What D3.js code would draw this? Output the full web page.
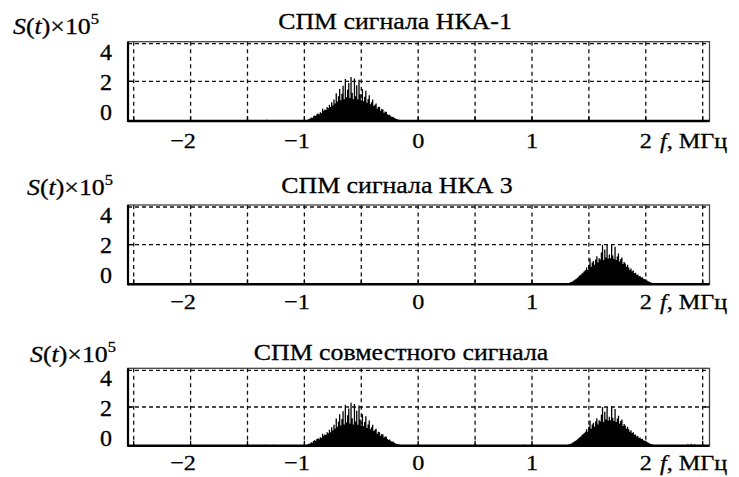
<!DOCTYPE html>
<html><head><meta charset="utf-8">
<script src="https://cdn.jsdelivr.net/npm/d3@7"></script>
<style>
body{margin:0;background:#fff}
text{font-family:"Liberation Serif","Times New Roman",serif;fill:#000;stroke:#000;stroke-width:0.3px}
</style>
</head><body><svg id="c" width="739" height="477"></svg>
<script>
// ---------------- data ----------------
const panelTitles = ["СПМ сигнала НКА-1", "СПМ сигнала НКА 3", "СПМ совместного сигнала"];
const xTickValues = [-2, -1, 0, 1, 2];
const xGridValues = [-2.5, -2, -1.5, -1, -0.5, 0, 0.5, 1, 1.5, 2, 2.5];
const yTickValues = [0, 2, 4];
const yGridValues = [2, 4];
const xUnitLabel = "МГц";
const freqStep = 0.01;

const hka1Start = -0.98;
const hka1Values = [
  0.03,0.06,0.10,0.12,0.18,0.15,0.24,0.28,0.25,0.34,
  0.38,0.33,0.44,0.40,0.62,0.52,0.58,0.55,0.70,0.64,
  0.82,0.70,0.95,0.78,1.08,0.88,1.40,0.98,1.25,1.62,
  1.05,1.38,1.78,1.10,2.12,1.20,1.58,1.92,1.15,2.22,
  1.42,1.10,2.15,1.25,1.80,1.08,2.08,1.35,1.05,1.62,
  1.00,1.22,1.52,0.92,1.10,1.30,0.85,0.95,1.08,0.76,
  0.82,0.88,0.62,0.72,0.70,0.52,0.60,0.58,0.42,0.48,
  0.46,0.34,0.30,0.32,0.24,0.20,0.22,0.15,0.12,0.10,
  0.08,0.06,0.05,0.03,0.02
];
const hka3Start = 1.30;
const hka3Values = [
  0.02,0.04,0.06,0.08,0.10,0.13,0.16,0.20,0.24,0.28,
  0.33,0.38,0.44,0.48,0.55,0.60,0.66,0.72,
  0.85,0.72,0.98,1.30,0.88,1.10,1.18,0.98,1.25,1.42,
  1.10,1.32,1.25,1.60,2.00,1.22,1.75,1.35,2.00,1.30,
  1.50,1.32,2.02,1.45,1.28,1.90,1.22,1.40,1.55,1.15,
  1.28,1.35,1.02,1.12,1.05,0.88,0.98,0.85,0.72,0.80,
  0.66,0.70,0.56,0.58,0.48,0.50,0.40,0.42,0.34,0.36,
  0.28,0.26,0.22,0.19,0.16,0.13,0.10,0.08,0.06,0.04,0.02
];
const hka1Blips = [[-1.33, 0.06], [-1.32, 0.04], [0.18, 0.05]];
const hka3Blips = [];
const jointBlips = [[-1.35, 0.05], [-1.31, 0.04], [-1.27, 0.05], [0.17, 0.04],
  [0.90, 0.04], [0.93, 0.06], [0.96, 0.04], [2.37, 0.07], [2.40, 0.10], [2.43, 0.08]];

// ---------------- helpers ----------------
function seriesPoints(start, values) {
  return values.map((v, i) => [Math.round((start + i * freqStep) * 100) / 100, v]);
}
function combine(...lists) {
  const m = new Map();
  lists.flat().forEach(([f, v]) => m.set(f, (m.get(f) || 0) + v));
  return Array.from(m.entries()).sort((a, b) => a[0] - b[0]);
}
const s1 = seriesPoints(hka1Start, hka1Values);
const s3 = seriesPoints(hka3Start, hka3Values);
const panelData = [
  combine(s1, hka1Blips),
  combine(s3, hka3Blips),
  combine(s1, s3, jointBlips)
];

// ---------------- layout ----------------
const layout = [
  {top: 41.7, bottom: 121, titleX: 395, titleY: 29, labX: 13, labY: 34, tickY: 148},
  {top: 205, bottom: 284.3, titleX: 397, titleY: 193, labX: 27, labY: 195, tickY: 309},
  {top: 368.3, bottom: 445.7, titleX: 401, titleY: 360, labX: 30, labY: 362, tickY: 470}
];
const X0 = 128, X1 = 709.5;
const x = d3.scaleLinear().domain([-2.55, 2.56]).range([X0, X1]);
const SX = 1.1;

const svg = d3.select("#c");

function addText(g, tx, ty, str, size, anchor, sx) {
  return g.append("text")
    .attr("transform", `translate(${tx},${ty}) scale(${sx},1)`)
    .attr("text-anchor", anchor || "start")
    .style("font-size", size + "px")
    .text(str);
}

layout.forEach((L, pi) => {
  const g = svg.append("g");
  const y = d3.scaleLinear().domain([0, 4]).range([L.bottom, L.top]);
  const yLab = d3.scaleLinear().domain([0, 4]).range([L.top + 70, L.top + 10]);

  // grid
  g.selectAll(".vg").data(xGridValues).join("line")
    .attr("x1", d => x(d)).attr("x2", d => x(d))
    .attr("y1", L.top).attr("y2", L.bottom)
    .attr("stroke", "#111").attr("stroke-width", 1.3).attr("stroke-dasharray", "4,3.5");
  g.selectAll(".hg").data(yGridValues).join("line")
    .attr("x1", X0).attr("x2", X1)
    .attr("y1", d => y(d) + (d === 4 ? 2 : 0)).attr("y2", d => y(d) + (d === 4 ? 2 : 0))
    .attr("stroke", "#111").attr("stroke-width", 1.3).attr("stroke-dasharray", "4,3");

  // spectrum stems
  const data = panelData[pi];
  g.append("path")
    .attr("d", data.map(([f, v]) => `M${x(f).toFixed(2)},${L.bottom}V${y(v).toFixed(2)}`).join(""))
    .attr("stroke", "#000").attr("stroke-width", 1.3).attr("fill", "none");

  // frame
  g.append("rect").attr("x", X0).attr("y", L.top).attr("width", X1 - X0).attr("height", L.bottom - L.top)
    .attr("fill", "none").attr("stroke", "#444").attr("stroke-width", 1.3);
  g.append("line").attr("x1", X0).attr("x2", X0).attr("y1", L.top).attr("y2", L.bottom + 1)
    .attr("stroke", "#000").attr("stroke-width", 2.2);
  g.append("line").attr("x1", X0).attr("x2", X1).attr("y1", L.bottom).attr("y2", L.bottom)
    .attr("stroke", "#000").attr("stroke-width", 2.4);

  // small ticks
  g.selectAll(".bt").data(xGridValues).join("line")
    .attr("x1", d => x(d)).attr("x2", d => x(d))
    .attr("y1", L.bottom).attr("y2", L.bottom - 5)
    .attr("stroke", "#000").attr("stroke-width", 1.3);
  g.selectAll(".lt").data([2]).join("line")
    .attr("x1", X0).attr("x2", X0 + 5).attr("y1", d => y(d)).attr("y2", d => y(d))
    .attr("stroke", "#000").attr("stroke-width", 1.3);
  g.selectAll(".rt").data([2]).join("line")
    .attr("x1", X1).attr("x2", X1 - 5).attr("y1", d => y(d)).attr("y2", d => y(d))
    .attr("stroke", "#000").attr("stroke-width", 1.3);

  // y tick labels
  yTickValues.forEach(v => {
    addText(g, 112, yLab(v) + 8, String(v), 24, "end", 1.0);
  });

  // x tick labels
  xTickValues.forEach(v => {
    const lab = v < 0 ? "\u2212" + Math.abs(v) : String(v);
    const tx = x(v) - (v < 0 ? 7.5 : 0);
    addText(g, tx, L.tickY, lab, 22, "middle", SX);
  });
  // unit label
  const ul = g.append("text")
    .attr("transform", `translate(660,${L.tickY}) scale(${SX},1)`)
    .style("font-size", "22px");
  ul.append("tspan").style("font-style", "italic").text("f");
  ul.append("tspan").text(", " + xUnitLabel);

  // title
  addText(g, L.titleX, L.titleY, panelTitles[pi], 23.5, "middle", SX);

  // S(t)x10^5
  const st = g.append("text")
    .attr("transform", `translate(${L.labX},${L.labY}) scale(${SX},1)`)
    .style("font-size", "23.5px");
  st.append("tspan").style("font-style", "italic").text("S");
  st.append("tspan").text("(");
  st.append("tspan").style("font-style", "italic").text("t");
  st.append("tspan").text(")×10");
  st.append("tspan").attr("dy", -10).style("font-size", "15px").text("5");
});
</script>
</body></html>
